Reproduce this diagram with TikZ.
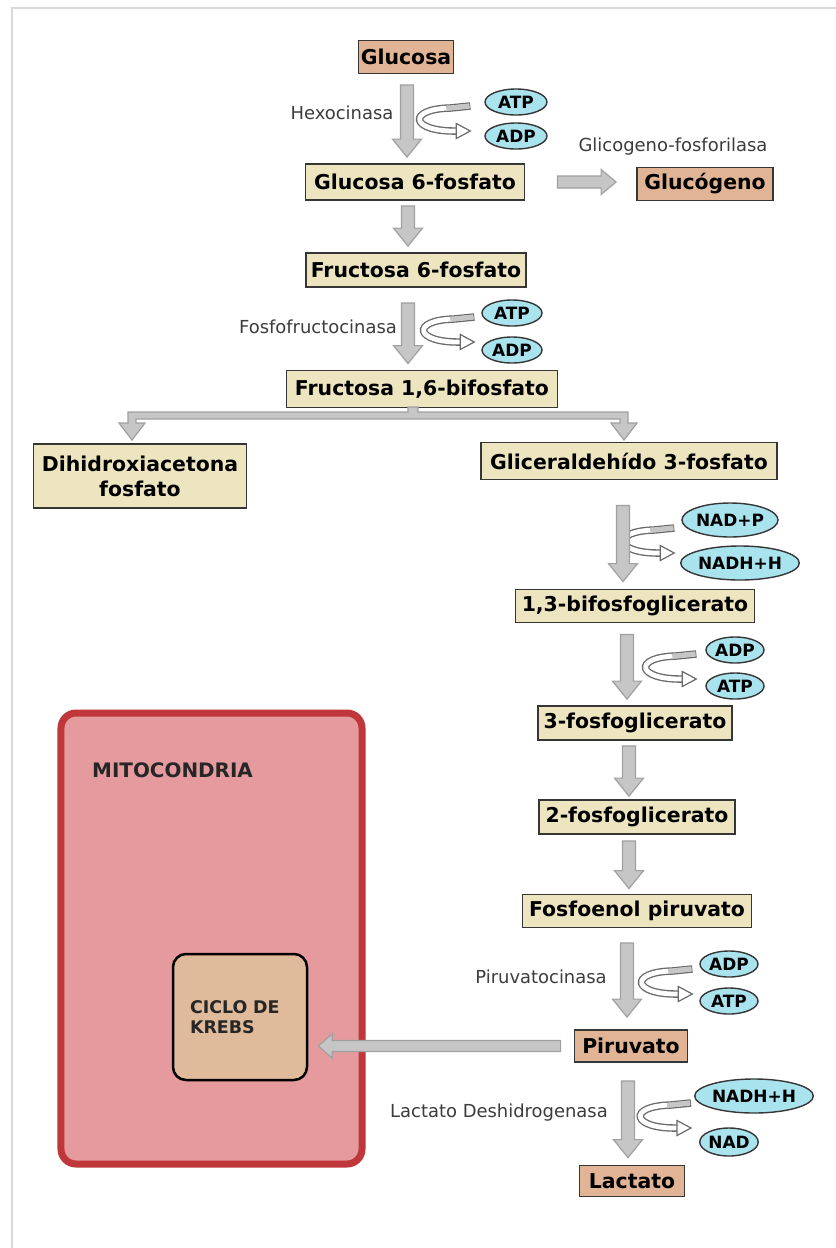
\documentclass[tikz,border=0pt]{standalone}
\usepackage{fontspec}
\setmainfont{DejaVu Sans}
\usetikzlibrary{arrows.meta,calc,shapes.geometric}
\definecolor{tanf}{HTML}{EDE4C0}
\definecolor{peach}{HTML}{E1B495}
\definecolor{cyanf}{HTML}{A9E3EE}
\definecolor{afill}{HTML}{C6C6C6}
\definecolor{aedge}{HTML}{A0A0A0}
\definecolor{mred}{HTML}{C0373B}
\definecolor{mfill}{HTML}{E59B9D}
\definecolor{kfill}{HTML}{DFBA9B}
\definecolor{lbl}{HTML}{3C3C3C}
\definecolor{bord}{HTML}{363636}
\definecolor{cband}{HTML}{6A6A6A}
\newcommand\fdown[2]{\filldraw[fatarrow] ($(#1)+(-6.5,0)$) -- ($(#2)+(-6.5,-18)$) -- ($(#2)+(-14.5,-18)$) -- (#2) -- ($(#2)+(14.5,-18)$) -- ($(#2)+(6.5,-18)$) -- ($(#1)+(6.5,0)$) -- cycle;}
\newcommand\fright[2]{\filldraw[fatarrow] ($(#1)+(0,-6)$) -- ($(#2)+(-15,-6)$) -- ($(#2)+(-15,-12.5)$) -- (#2) -- ($(#2)+(-15,12.5)$) -- ($(#2)+(-15,6)$) -- ($(#1)+(0,6)$) -- cycle;}
\newcommand\fleft[2]{\filldraw[fatarrow] ($(#1)+(0,-5.5)$) -- ($(#2)+(14,-5.5)$) -- ($(#2)+(14,-12)$) -- (#2) -- ($(#2)+(14,12)$) -- ($(#2)+(14,5.5)$) -- ($(#1)+(0,5.5)$) -- cycle;}
\newcommand\cyc[1]{%
  \draw[line width=7.5bp, draw=cband] (#1) -- ($(#1)+(-20,2)$) .. controls ($(#1)+(-64,3)$) and ($(#1)+(-60,26)$) .. ($(#1)+(-13,25)$);
  \draw[line width=4.8bp, draw=white] ($(#1)+(-1,0)$) -- ($(#1)+(-20,2)$) .. controls ($(#1)+(-64,3)$) and ($(#1)+(-60,26)$) .. ($(#1)+(-13,25)$);
  \draw[line width=4.8bp, draw=afill] ($(#1)+(-1,0)$) -- ($(#1)+(-24,2.4)$);
  \filldraw[fill=white, draw=cband, line width=1.2bp, line join=miter] ($(#1)+(-14,17.5)$) -- ($(#1)+(0,25)$) -- ($(#1)+(-14,32.5)$) -- cycle;}
\begin{document}
\begin{tikzpicture}[x=1bp,y=-1bp,
  box/.style={draw=bord, line width=1.8bp, fill=tanf, font=\fontsize{20.5}{25}\selectfont\bfseries, text=black, inner sep=0pt, align=center},
  pbox/.style={box, fill=peach},
  mol/.style={ellipse, draw=bord, line width=1.4bp, fill=cyanf, font=\fontsize{17}{20}\selectfont\bfseries, text=black, inner sep=0pt},
  enz/.style={font=\fontsize{18}{21}\selectfont, text=lbl, inner sep=0pt},
  fatarrow/.style={fill=afill, draw=aedge, line width=1.2bp, line join=miter}]
\useasboundingbox (0,0) rectangle (836,1248);
\fill[white] (0,0) rectangle (836,1248);
\draw[line width=2bp, draw=black!15] (12,1250) -- (12,8) -- (840,8);

% mitochondria
\node[draw=mred, line width=7bp, fill=mfill, rounded corners=15bp, minimum width=301bp, minimum height=451bp, inner sep=0pt] (mito) at (211.5,938.5) {};
\node[font=\fontsize{20}{24}\selectfont\bfseries, text=black!85, anchor=west, inner sep=0pt] (mitot) at (92,770) {MITOCONDRIA};
\node[draw=black, line width=2.5bp, fill=kfill, rounded corners=13bp, minimum width=134bp, minimum height=126bp, inner sep=0pt, text width=100bp, align=left, font=\fontsize{17.5}{20}\selectfont\bfseries, text=black!85] (krebs) at (240,1017) {CICLO DE\\KREBS};

% boxes
\node[pbox, minimum width=95bp, minimum height=33bp] (glu) at (406,57) {Glucosa};
\node[box, minimum width=219bp, minimum height=36bp] (g6p) at (415,182) {Glucosa 6-fosfato};
\node[pbox, minimum width=136bp, minimum height=33bp] (glyc) at (705,184) {Glucógeno};
\node[box, minimum width=220bp, minimum height=34bp] (f6p) at (416,270) {Fructosa 6-fosfato};
\node[box, minimum width=271bp, minimum height=37bp] (f16) at (422,389) {Fructosa 1,6-bifosfato};
\node[box, minimum width=213bp, minimum height=64bp] (dhap) at (140,476) {Dihidroxiacetona\\fosfato};
\node[box, minimum width=296bp, minimum height=37bp] (gap) at (629,461) {Gliceraldehído 3-fosfato};
\node[box, minimum width=239bp, minimum height=33bp] (bpg) at (635,606) {1,3-bifosfoglicerato};
\node[box, minimum width=194bp, minimum height=34bp] (pg3) at (635,723) {3-fosfoglicerato};
\node[box, minimum width=196bp, minimum height=34bp] (pg2) at (637,817) {2-fosfoglicerato};
\node[box, minimum width=229bp, minimum height=33bp] (pep) at (637,911) {Fosfoenol piruvato};
\node[pbox, minimum width=113bp, minimum height=32bp] (pyr) at (631,1046) {Piruvato};
\node[pbox, minimum width=105bp, minimum height=31bp] (lac) at (632,1181) {Lactato};

% enzyme labels
\node[enz] (hex) at (342,113) {Hexocinasa};
\node[enz] (gfos) at (673,147) {Glicogeno-fosforilasa};
\node[enz] (pfk) at (318,327) {Fosfofructocinasa};
\node[enz] (pk) at (541,977) {Piruvatocinasa};
\node[enz] (ldh) at (499,1113) {Lactato Deshidrogenasa};

% cofactors
\node[mol, minimum width=62bp, minimum height=26bp] (atp1) at (516,102) {ATP};
\node[mol, minimum width=62bp, minimum height=26bp] (adp1) at (516,136) {ADP};
\node[mol, minimum width=60bp, minimum height=26bp] (atp2) at (512,313) {ATP};
\node[mol, minimum width=60bp, minimum height=26bp] (adp2) at (512,350) {ADP};
\node[mol, minimum width=88bp, minimum height=34bp] (nadp) at (730,520) {NAD+P};
\node[mol, minimum width=107bp, minimum height=34bp] (nadh1) at (740,563) {NADH+H};
\node[mol, minimum width=58bp, minimum height=26bp] (adp3) at (735,650) {ADP};
\node[mol, minimum width=58bp, minimum height=26bp] (atp3) at (735,686) {ATP};
\node[mol, minimum width=58bp, minimum height=26bp] (adp4) at (729,964) {ADP};
\node[mol, minimum width=58bp, minimum height=26bp] (atp4) at (729,1001) {ATP};
\node[mol, minimum width=107bp, minimum height=34bp] (nadh2) at (754,1096) {NADH+H};
\node[mol, minimum width=58bp, minimum height=28bp] (nad) at (729,1142) {NAD};

% curved cofactor arrows
\coordinate (c1) at ($(atp1.west)+(-14,4)$); \cyc{c1}
\coordinate (c2) at ($(atp2.west)+(-7,4)$); \cyc{c2}
\coordinate (c3) at ($(nadp.west)+(-7,8)$); \cyc{c3}
\coordinate (c4) at ($(adp3.west)+(-9,4)$); \cyc{c4}
\coordinate (c5) at ($(adp4.west)+(-7,5)$); \cyc{c5}
\coordinate (c6) at ($(nadh2.west)+(-3,7)$); \cyc{c6}

% main arrows
\coordinate (s1) at ($(glu.south)+(1,10.5)$); \coordinate (t1) at (s1 |- {$(g6p.north)+(0,-6)$});
\coordinate (s2) at ($(g6p.south)+(-7,5)$);  \coordinate (t2) at (s2 |- {$(f6p.north)+(0,-6)$});
\coordinate (s3) at ($(f6p.south)+(-8,15)$); \coordinate (t3) at (s3 |- {$(f16.north)+(0,-6)$});
\coordinate (s5) at ($(gap.south)+(-6,25)$); \coordinate (t5) at (s5 |- {$(bpg.north)+(0,-7)$});
\coordinate (s6) at ($(bpg.south)+(-8,11)$); \coordinate (t6) at (s6 |- {$(pg3.north)+(0,-6)$});
\coordinate (s7) at ($(pg3.south)+(-6,5)$);  \coordinate (t7) at (s7 |- {$(pg2.north)+(0,-3)$});
\coordinate (s8) at ($(pg2.south)+(-8,6)$);  \coordinate (t8) at (s8 |- {$(pep.north)+(0,-5)$});
\coordinate (s9) at ($(pep.south)+(-10,14.5)$); \coordinate (t9) at (s9 |- {$(pyr.north)+(0,-12)$});
\coordinate (s10) at ($(pyr.south)+(-3,18)$); \coordinate (t10) at (s10 |- {$(lac.north)+(0,-7)$});
\fdown{s1}{t1} \fdown{s2}{t2} \fdown{s3}{t3} \fdown{s5}{t5} \fdown{s6}{t6}
\fdown{s7}{t7} \fdown{s8}{t8} \fdown{s9}{t9} \fdown{s10}{t10}

\coordinate (sg) at ($(g6p.east)+(32,0)$); \coordinate (tg) at (sg -| {$(glyc.west)+(-20,0)$});
\fright{sg}{tg}

% branch from fructosa 1,6-bifosfato
\filldraw[fatarrow] (128,412) -- (408,412) -- (408,407) -- (418,407) -- (418,412) -- (628,412) -- (628,423) -- (637,423) -- (624,440) -- (611,423) -- (620,423) -- (620,419) -- (136,419) -- (136,423) -- (145,423) -- (132,440) -- (119,423) -- (128,423) -- cycle;

% piruvato to krebs
\coordinate (sk) at ($(pyr.west)+(-13,0)$); \coordinate (tk) at (sk -| {$(krebs.east)+(10,0)$});
\fleft{sk}{tk}
\end{tikzpicture}
\end{document}
